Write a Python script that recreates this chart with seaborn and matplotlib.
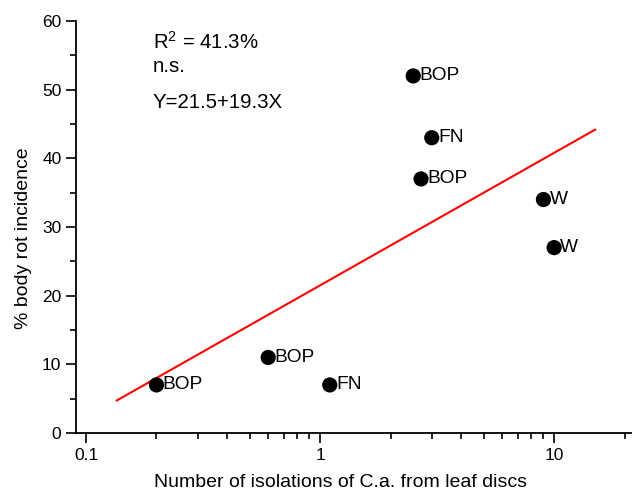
import numpy as np
import pandas as pd
import matplotlib
matplotlib.use("Agg")
import matplotlib.pyplot as plt
from matplotlib.ticker import LogLocator, MultipleLocator, FixedLocator, NullFormatter
import seaborn as sns

# Isolations of C.a. from leaf discs vs. body rot incidence, per site
isolations = [0.2, 0.6, 1.1, 2.5, 3.0, 2.7, 9.0, 10.0]
incidence = [7, 11, 7, 52, 43, 37, 34, 27]
site = ["BOP", "BOP", "FN", "BOP", "FN", "BOP", "W", "W"]

# Fitted regression on log10(X)
intercept = 21.5
slope = 19.3
fit_range = [0.135, 15.0]

sns.set_style("ticks")
plt.rcParams["font.family"] = ["Liberation Sans", "DejaVu Sans"]
plt.rcParams["mathtext.fontset"] = "custom"
plt.rcParams["mathtext.rm"] = "Liberation Sans"
plt.rcParams["mathtext.default"] = "regular"
for key in ["text.color", "axes.labelcolor", "xtick.color", "ytick.color"]:
    plt.rcParams[key] = "black"

df = pd.DataFrame({"x": isolations, "y": incidence, "site": site})
fx = np.geomspace(fit_range[0], fit_range[1], 50)
fit = pd.DataFrame({"x": fx, "y": intercept + slope * np.log10(fx)})

fig = plt.figure(figsize=(6.32, 5.0), dpi=100)
ax = fig.add_axes([76 / 632, 1 - 433 / 500, 555 / 632, 412 / 500])

sns.lineplot(data=fit, x="x", y="y", color="#ff0000", linewidth=1.5, ax=ax)
sns.scatterplot(data=df, x="x", y="y", color="black", s=120, edgecolor="none", ax=ax, zorder=3)

for xi, yi, lab in zip(isolations, incidence, site):
    ax.annotate(lab, (xi, yi), xytext=(4.5, 0), textcoords="offset points",
                ha="left", va="center", fontsize=13.8)

ax.set_xscale("log")
ax.set_xlim(0.0906, 21.3)
ax.set_ylim(0, 60)
ax.xaxis.set_major_locator(FixedLocator([0.1, 1, 10]))
ax.set_xticklabels(["0.1", "1", "10"])
ax.xaxis.set_minor_locator(LogLocator(base=10, subs=np.arange(2, 10), numticks=20))
ax.xaxis.set_minor_formatter(NullFormatter())
ax.yaxis.set_major_locator(MultipleLocator(10))
ax.yaxis.set_minor_locator(MultipleLocator(5))

ax.tick_params(which="major", length=7, width=1.2, labelsize=12.5, color="black", direction="out")
ax.tick_params(which="minor", length=4, width=1.2, color="black", direction="out")
sns.despine(ax=ax)
for s in ["left", "bottom"]:
    ax.spines[s].set_linewidth(1.3)
    ax.spines[s].set_color("black")

ax.set_xlabel("Number of isolations of C.a. from leaf discs", fontsize=14)
ax.set_ylabel("% body rot incidence", fontsize=14)
ax.xaxis.set_label_coords(0.476, -0.1)
ax.yaxis.set_label_coords(-0.08, 0.473)

fig.text(153 / 632, 1 - 42 / 500, r"R$^{2}$ = 41.3%", fontsize=14.7, va="center", ha="left")
fig.text(153 / 632, 1 - 66 / 500, "n.s.", fontsize=14.7, va="center", ha="left")
fig.text(153 / 632, 1 - 103 / 500, "Y=21.5+19.3X", fontsize=14.7, va="center", ha="left")

fig.savefig("out.png", dpi=100)
